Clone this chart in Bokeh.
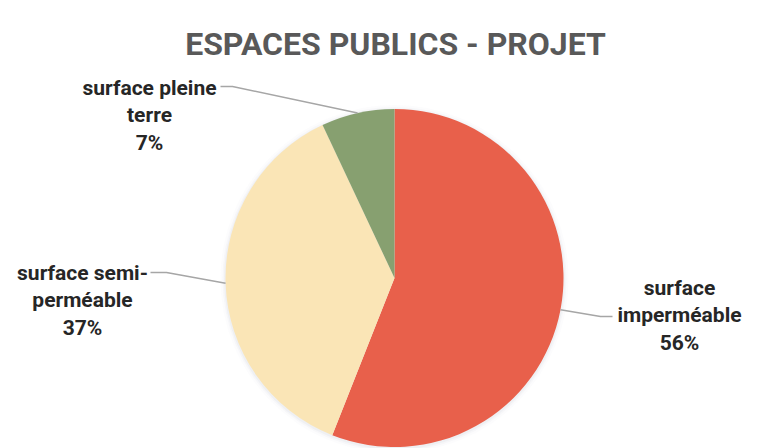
import math
from bokeh.plotting import figure
from bokeh.models import Range1d
from bokeh.embed import file_html
from bokeh.resources import INLINE
from bokeh.core.properties import value

# ---------------- data ----------------
title = "ESPACES PUBLICS - PROJET"
categories = ["surface imperméable", "surface semi-perméable", "surface pleine terre"]
label_lines = [["surface", "imperméable"], ["surface semi-", "perméable"], ["surface pleine", "terre"]]
shares = [56, 37, 7]
colors = ["#E8604B", "#FAE5B6", "#87A070"]

# ---------------- layout (screen px) ----------------
W, H = 757, 448
OX, OY = 0, 0


def dx(xs):
    return xs - OX


def dy(ys):
    return (OY + H) - ys


pie_cx, pie_cy, pie_r = 394, 277.5, 169
label_anchor = [(679, 287), (82, 272), (149, 87)]   # centre x, first baseline
line_step = 27.5
leader_pts = [
    [(600, 316), (612, 316)],
    [(166, 272), (150, 272)],
    [(232, 86), (220, 86)],
]

p = figure(width=W, height=H, x_range=Range1d(0, W), y_range=Range1d(0, H),
           output_backend="svg", toolbar_location=None, min_border=0)
p.axis.visible = False
p.grid.visible = False
p.outline_line_color = None
p.background_fill_color = "white"
p.border_fill_color = "white"

# soft shadow
for extra, a in [(5, 0.03), (3, 0.05), (1.5, 0.08)]:
    p.circle(x=[dx(pie_cx)], y=[dy(pie_cy) - 1], radius=pie_r + extra,
             fill_color="#9aa5b0", fill_alpha=a, line_color=None)

total = sum(shares)
cum = 0.0
for i, (v, c) in enumerate(zip(shares, colors)):
    a0 = cum / total * 2 * math.pi
    a1 = (cum + v) / total * 2 * math.pi
    cum += v
    start = math.pi / 2 - a1
    end = math.pi / 2 - a0
    p.wedge(x=[dx(pie_cx)], y=[dy(pie_cy)], radius=pie_r,
            start_angle=[start], end_angle=[end], direction="anticlock",
            fill_color=c, line_color=None)
    mid = math.pi / 2 - (a0 + a1) / 2
    ex = pie_cx + pie_r * math.cos(mid)
    ey = pie_cy - pie_r * math.sin(mid)
    pts = [(ex, ey)] + leader_pts[i]
    p.line(x=[dx(px) for px, _ in pts], y=[dy(py) for _, py in pts],
           line_color="#A6A6A6", line_width=1.5)
    lx, ly = label_anchor[i]
    lines = label_lines[i] + [f"{v}%"]
    p.text(x=[dx(lx)] * len(lines), y=[dy(ly + k * line_step) for k in range(len(lines))],
           text=lines, text_align="center", text_baseline="alphabetic",
           text_font=value("Roboto"), text_font_style="bold",
           text_font_size="21px", text_color="#262626")

p.text(x=[dx(395)], y=[dy(43)], text=[title], text_align="center",
       text_baseline="alphabetic", text_font=value("Roboto"),
       text_font_style="bold", text_font_size="32px", text_color="#595959")

open("out.html", "w").write(file_html(p, INLINE))
